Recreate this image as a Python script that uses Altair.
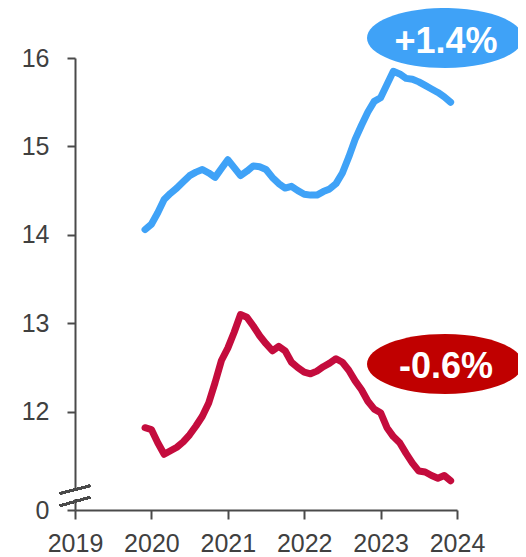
import altair as alt
import pandas as pd

# Monthly observations, Dec 2019 .. Dec 2023
months = pd.date_range("2019-12-01", "2023-12-01", freq="MS")

blue_values = [
    14.06, 14.12, 14.25, 14.40, 14.47, 14.53, 14.60, 14.67, 14.71, 14.74,
    14.70, 14.65, 14.75, 14.85, 14.76, 14.67, 14.72, 14.78, 14.77, 14.74,
    14.65, 14.58, 14.53, 14.55, 14.50, 14.46, 14.45, 14.45, 14.49, 14.52,
    14.58, 14.70, 14.88, 15.08, 15.24, 15.39, 15.51, 15.55, 15.70, 15.85,
    15.82, 15.77, 15.76, 15.73, 15.69, 15.65, 15.61, 15.56, 15.50,
]
red_values = [
    11.82, 11.80, 11.65, 11.52, 11.56, 11.60, 11.66, 11.74, 11.84, 11.95,
    12.10, 12.33, 12.58, 12.72, 12.90, 13.10, 13.07, 12.97, 12.86, 12.77,
    12.69, 12.74, 12.69, 12.56, 12.50, 12.45, 12.43, 12.46, 12.51, 12.55,
    12.60, 12.56, 12.47, 12.35, 12.25, 12.12, 12.03, 11.99, 11.82, 11.72,
    11.65, 11.53, 11.42, 11.33, 11.32, 11.28, 11.25, 11.28, 11.22,
]
series_names = ["blue", "red"]
series_colors = ["#3FA2F7", "#C40C3D"]
badge_labels = ["+1.4%", "-0.6%"]
badge_colors = ["#3FA2F7", "#C00000"]
y_ticks = [10.89, 12, 13, 14, 15, 16]
x_ticks = [2019, 2020, 2021, 2022, 2023, 2024]

t = [m.year + (m.month - 1) / 12 for m in months]
df = pd.concat([
    pd.DataFrame({"t": t, "v": blue_values, "s": series_names[0]}),
    pd.DataFrame({"t": t, "v": red_values, "s": series_names[1]}),
])

axis_color = "#4a4a4a"
font = "Liberation Sans"

lines = alt.Chart(df).mark_line(strokeWidth=7, strokeCap="round", strokeJoin="round").encode(
    x=alt.X("t:Q", scale=alt.Scale(domain=[2019, 2024], nice=False, zero=False),
            axis=alt.Axis(values=x_ticks, format="d", title=None, tickSize=9,
                          labelPadding=12, labelFlush=False)),
    y=alt.Y("v:Q", scale=alt.Scale(domain=[10.89, 16], nice=False, zero=False),
            axis=alt.Axis(values=y_ticks, format=".0f", title=None, tickSize=8,
                          labelPadding=18,
                          labelExpr="datum.value < 11 ? '0' : datum.label")),
    color=alt.Color("s:N", scale=alt.Scale(domain=series_names, range=series_colors), legend=None),
    detail="s:N",
)

# axis break: white gap + two slashes
gap = alt.Chart(df).mark_rule(color="white", strokeWidth=4).encode(
    x=alt.value(0), y=alt.value(432), y2=alt.value(441)
)
slash1 = alt.Chart(df).mark_rule(color=axis_color, strokeWidth=2).encode(
    x=alt.value(-15), x2=alt.value(15), y=alt.value(435.5), y2=alt.value(427.7)
)
slash2 = alt.Chart(df).mark_rule(color=axis_color, strokeWidth=2).encode(
    x=alt.value(-15), x2=alt.value(15), y=alt.value(447.7), y2=alt.value(439.3)
)

ellipse_path = "M-1,0A1,0.385,0,1,0,1,0A1,0.385,0,1,0,-1,0Z"
badge_df = pd.DataFrame({"label": badge_labels, "color": badge_colors})

blue_badge = alt.Chart(badge_df.iloc[[0]]).mark_point(
    shape=ellipse_path, filled=True, opacity=1, size=156 * 156, color=badge_colors[0]
).encode(x=alt.value(370), y=alt.value(-20))
red_badge = alt.Chart(badge_df.iloc[[1]]).mark_point(
    shape=ellipse_path, filled=True, opacity=1, size=156 * 156, color=badge_colors[1]
).encode(x=alt.value(370), y=alt.value(306))

blue_text = alt.Chart(badge_df.iloc[[0]]).mark_text(
    font=font, fontSize=36, fontWeight="bold", color="white", align="center", baseline="middle"
).encode(x=alt.value(371), y=alt.value(-16), text="label:N")
red_text = alt.Chart(badge_df.iloc[[1]]).mark_text(
    font=font, fontSize=36, fontWeight="bold", color="white", align="center", baseline="middle"
).encode(x=alt.value(371), y=alt.value(309), text="label:N")

chart = alt.layer(
    lines, gap, slash1, slash2, blue_badge, red_badge, blue_text, red_text
).properties(
    width=382, height=452,
    autosize=alt.AutoSizeParams(type="none"),
    padding={"left": 67, "top": 50, "right": 61, "bottom": 47},
).configure_view(stroke=None).configure_axis(
    grid=False,
    domainColor=axis_color, domainWidth=2,
    tickColor=axis_color, tickWidth=2,
    labelColor="#404040", labelFont=font, labelFontSize=25,
)

chart.save("out.html", embed_options={"renderer": "svg", "actions": False})
